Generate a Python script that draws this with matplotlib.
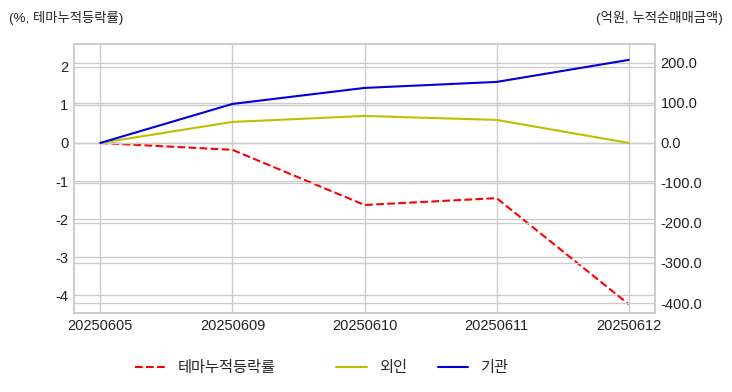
import numpy as np
import matplotlib
matplotlib.use('Agg')
import matplotlib.pyplot as plt
import seaborn as sns

# ---- data ----
dates = ['20250605', '20250609', '20250610', '20250611', '20250612']
theme_ret = [0.0, -0.18, -1.63, -1.45, -4.24]      # %, left axis
foreign = [0.0, 52.5, 67.5, 57.5, 0.0]              # 억원, right axis
institution = [0.0, 97.5, 137.5, 152.5, 207.5]      # 억원, right axis

left_ticks = [-4, -3, -2, -1, 0, 1, 2]
right_ticks = [-400, -300, -200, -100, 0, 100, 200]

# ---- style ----
sns.set_style('whitegrid')
plt.rcParams['font.family'] = ['Liberation Sans', 'Noto Sans CJK KR', 'DejaVu Sans']
plt.rcParams['axes.unicode_minus'] = False

fig = plt.figure(figsize=(7.32, 3.92), dpi=100)
ax1 = fig.add_axes([0.101, 0.2015, 0.794, 0.6865])
ax2 = ax1.twinx()

x = np.arange(len(dates))
l1, = ax1.plot(x, theme_ret, '--', color='red', linewidth=1.5, label='테마누적등락률')
l2, = ax2.plot(x, foreign, '-', color='#bfbf00', linewidth=1.5, label='외인')
l3, = ax2.plot(x, institution, '-', color='#0000dd', linewidth=1.5, label='기관')

ax1.set_xlim(-0.2, 4.2)
ax1.set_xticks(x)
ax1.set_xticklabels(dates)
ax1.set_ylim(-4.47, 2.605)
ax1.set_yticks(left_ticks)
ax1.set_yticklabels([str(t) for t in left_ticks])
ax2.set_ylim(-425, 247.5)
ax2.set_yticks(right_ticks)
ax2.set_yticklabels([f'{t:.1f}' for t in right_ticks])

for ax in (ax1, ax2):
    ax.tick_params(labelsize=10.5, colors='#222222', length=0, pad=4)
    ax.grid(True, color='#cccccc', linewidth=1.0)
    for sp in ax.spines.values():
        sp.set_color('#cccccc')
        sp.set_linewidth(1.2)
ax2.grid(True, axis='y')
ax2.xaxis.grid(False)

fig.text(0.012, 0.955, '(%, 테마누적등락률)', fontsize=9.6, color='#222222', va='center', ha='left')
fig.text(0.988, 0.955, '(억원, 누적순매매금액)', fontsize=9.6, color='#222222', va='center', ha='right')

fig.legend(handles=[l1], loc='center', bbox_to_anchor=(0.28, 0.06), frameon=False, fontsize=11)
fig.legend(handles=[l2, l3], loc='center', bbox_to_anchor=(0.577, 0.06), ncol=2, frameon=False, fontsize=11)

fig.savefig('out.png', dpi=100)
